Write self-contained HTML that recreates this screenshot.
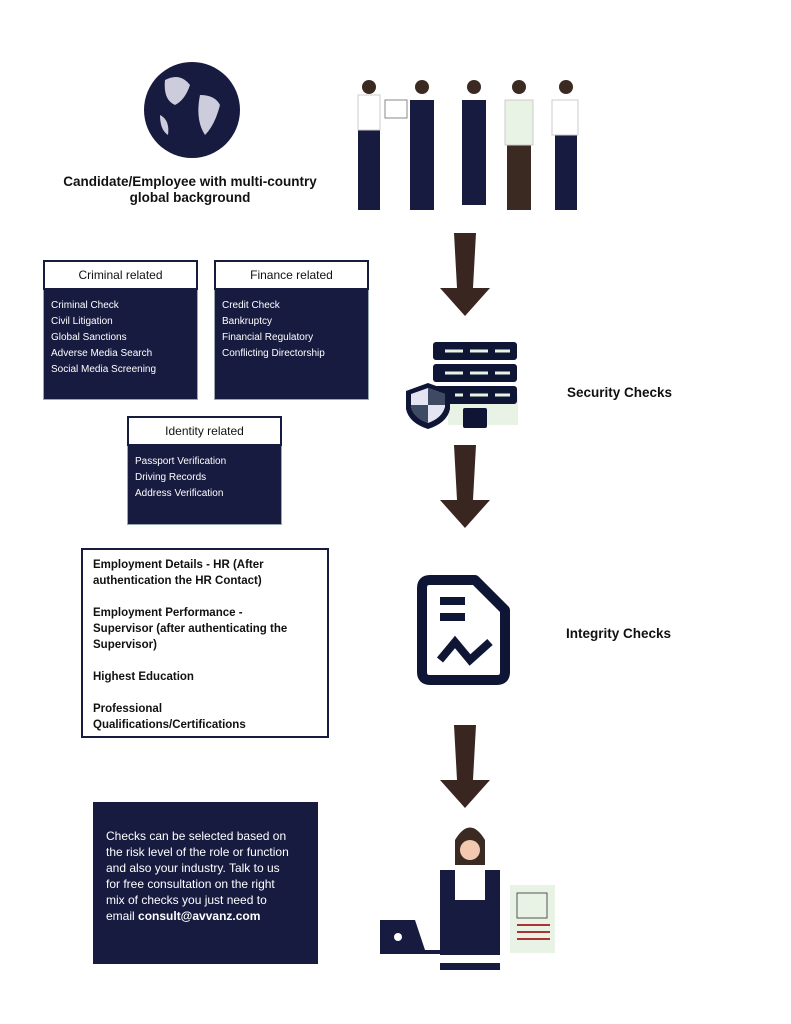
<!DOCTYPE html>
<html><head><style>
body{margin:0;width:791px;height:1024px;background:#fff;position:relative;font-family:"Liberation Sans",sans-serif;overflow:hidden}
.a{position:absolute}
.box{position:absolute;background:#171b40;color:#fff;font-size:10px;box-sizing:border-box;border:1px solid #9aa}
.hd{background:#fff;color:#111;font-size:12px;text-align:center;border:2px solid #171b40;box-sizing:border-box;height:30px;line-height:26px;margin:-1px -1px 0 -1px}
.box ul{list-style:none;margin:8px 0 0 7px;padding:0;line-height:16px}
.t{font-weight:bold;font-size:13px;color:#111}
</style></head><body>
<svg class="a" style="left:0;top:0" width="791" height="1024">
<circle cx="192" cy="110" r="48" fill="#171b40"/>
<path d="M165 80 q15 -8 25 5 q-5 15 -15 20 q-12 -5 -10 -25z M200 95 q15 0 20 10 q-5 20 -15 30 q-10 -15 -5 -40z M160 115 q10 5 8 20 q-8 -5 -8 -20z" fill="#ccd"/>
<g fill="#171b40">
<rect x="358" y="125" width="22" height="85"/><rect x="410" y="100" width="24" height="110"/><rect x="462" y="100" width="24" height="105"/><rect x="507" y="130" width="24" height="80" fill="#3a2a22"/><rect x="555" y="125" width="22" height="85"/>
</g>
<g fill="#fff" stroke="#ccc"><rect x="358" y="95" width="22" height="35"/><rect x="505" y="100" width="28" height="45" fill="#e8f3e5"/><rect x="552" y="100" width="26" height="35"/></g>
<g fill="#3a2a22"><circle cx="369" cy="87" r="7"/><circle cx="422" cy="87" r="7"/><circle cx="474" cy="87" r="7"/><circle cx="519" cy="87" r="7"/><circle cx="566" cy="87" r="7"/></g>
<rect x="385" y="100" width="22" height="18" fill="#fff" stroke="#888"/>
<g fill="#3a2620">
<path d="M454 233h22l-3 55h17l-25 28-25-28h17z"/>
<path d="M454 445h22l-3 55h17l-25 28-25-28h17z"/>
<path d="M454 725h22l-3 55h17l-25 28-25-28h17z"/>
</g>
<rect x="448" y="395" width="70" height="30" fill="#e8f3e5"/>
<g fill="#0f1535">
<rect x="433" y="342" width="84" height="18" rx="3"/><rect x="433" y="364" width="84" height="18" rx="3"/><rect x="433" y="386" width="84" height="18" rx="3"/><rect x="463" y="408" width="24" height="20" rx="2"/>
</g>
<g stroke="#e8f3e5" stroke-width="3"><path d="M445 351h18M470 351h18M495 351h15M445 373h18M470 373h18M495 373h15M455 395h8M470 395h18M495 395h15"/></g>
<path d="M428 383l22 8v18q-3 14-22 20q-19-6-22-20v-18z" fill="#0f1535"/>
<path d="M428 388l17 6v13q-3 11-17 16q-14-5-17-16v-13z" fill="#e4e4f2"/>
<path d="M428 388v17h17v-11z M411 405h17v18q-14-5-17-16z" fill="#3e4a62"/>
<path d="M430 580h45l30 30v62q0 8-8 8h-67q-8 0-8-8v-84q0-8 8-8z" fill="none" stroke="#0f1535" stroke-width="10" stroke-linejoin="round"/>
<g fill="#0f1535"><rect x="440" y="597" width="25" height="8"/><rect x="440" y="613" width="25" height="8"/></g>
<path d="M440 660l15-18 15 18 20-18" fill="none" stroke="#0f1535" stroke-width="8"/>
<rect x="510" y="885" width="45" height="68" fill="#e8f3e5"/>
<rect x="517" y="893" width="30" height="25" fill="none" stroke="#555"/>
<path d="M517 925h33M517 932h33M517 939h33" stroke="#a33" stroke-width="2"/>
<path d="M440 870h60v100h-60z" fill="#171b40"/>
<rect x="455" y="865" width="30" height="35" fill="#fff"/>
<path d="M455 840q15-25 30 0v25h-30z" fill="#3a2a22"/>
<circle cx="470" cy="850" r="10" fill="#f2c9b0"/>
<path d="M440 955h60v8h-60z" fill="#fff"/>
<path d="M380 920h35l10 30h-45z" fill="#171b40"/><circle cx="398" cy="937" r="4" fill="#fff"/>
<rect x="380" y="950" width="60" height="4" fill="#171b40"/>
</svg>
<div class="a t" style="left:55px;top:174px;width:270px;text-align:center;line-height:16px;font-size:13.5px">Candidate/Employee with multi-country<br>global background</div>
<div class="box" style="left:43px;top:260px;width:155px;height:140px"><div class="hd">Criminal related</div><ul><li>Criminal Check</li><li>Civil Litigation</li><li>Global Sanctions</li><li>Adverse Media Search</li><li>Social Media Screening</li></ul></div>
<div class="box" style="left:214px;top:260px;width:155px;height:140px"><div class="hd">Finance related</div><ul><li>Credit Check</li><li>Bankruptcy</li><li>Financial Regulatory</li><li>Conflicting Directorship</li></ul></div>
<div class="box" style="left:127px;top:416px;width:155px;height:109px"><div class="hd">Identity related</div><ul><li>Passport Verification</li><li>Driving Records</li><li>Address Verification</li></ul></div>
<div class="a t" style="left:567px;top:385px;font-size:13.5px">Security Checks</div>
<div class="a t" style="left:566px;top:626px;font-size:13.5px">Integrity Checks</div>
<div class="a" style="left:81px;top:548px;width:248px;height:190px;border:2px solid #171b40;box-sizing:border-box;padding:7px 10px;font-size:11.5px;font-weight:bold;color:#111;line-height:16px;white-space:nowrap">
Employment Details - HR (After<br>authentication the HR Contact)<br><br>Employment Performance -<br>Supervisor (after authenticating the<br>Supervisor)<br><br>Highest Education<br><br>Professional<br>Qualifications/Certifications</div>
<div class="a" style="left:93px;top:802px;width:225px;height:162px;background:#171b40;color:#fff;font-size:12px;line-height:16px;padding:26px 0 0 13px;box-sizing:border-box;white-space:nowrap">Checks can be selected based on<br>the risk level of the role or function<br>and also your industry. Talk to us<br>for free consultation on the right<br>mix of checks you just need to<br>email <b>consult@avvanz.com</b></div>
</body></html>
